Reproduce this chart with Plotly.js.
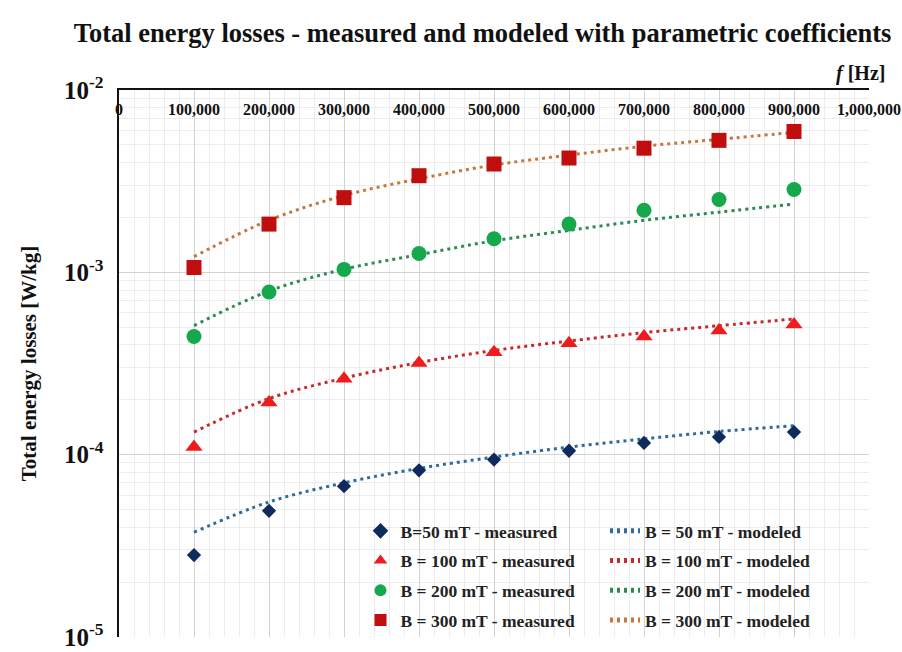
<!DOCTYPE html>
<html>
<head>
<meta charset="utf-8">
<script src="https://cdn.plot.ly/plotly-3.0.1.min.js"></script>
<style>html,body{margin:0;padding:0;background:#fff;}#chart{width:902px;height:652px;}</style>
</head>
<body>
<div id="chart"></div>
<script>
// Frequency [Hz]
const freq = [100000, 200000, 300000, 400000, 500000, 600000, 700000, 800000, 900000];

// Measured total energy losses [W/kg]
const meas50  = [2.81e-5, 4.92e-5, 6.71e-5, 8.2e-5, 9.4e-5, 1.05e-4, 1.16e-4, 1.25e-4, 1.33e-4];
const meas100 = [1.10e-4, 1.93e-4, 2.61e-4, 3.18e-4, 3.65e-4, 4.08e-4, 4.45e-4, 4.80e-4, 5.17e-4];
const meas200 = [4.45e-4, 7.80e-4, 1.038e-3, 1.27e-3, 1.53e-3, 1.84e-3, 2.19e-3, 2.51e-3, 2.85e-3];
const meas300 = [1.063e-3, 1.84e-3, 2.57e-3, 3.39e-3, 3.93e-3, 4.24e-3, 4.80e-3, 5.30e-3, 5.93e-3];

// Modeled total energy losses [W/kg]
const model50  = [3.75e-5, 5.5e-5, 7.0e-5, 8.4e-5, 9.7e-5, 1.1e-4, 1.22e-4, 1.34e-4, 1.44e-4];
const model100 = [1.33e-4, 2.03e-4, 2.63e-4, 3.2e-4, 3.73e-4, 4.2e-4, 4.67e-4, 5.1e-4, 5.55e-4];
const model200 = [5.1e-4, 7.9e-4, 1.04e-3, 1.25e-3, 1.49e-3, 1.7e-3, 1.93e-3, 2.14e-3, 2.37e-3];
const model300 = [1.22e-3, 1.93e-3, 2.64e-3, 3.26e-3, 3.88e-3, 4.40e-3, 4.92e-3, 5.37e-3, 5.86e-3];

// Labels
const measNames  = ["B=50 mT - measured", "B = 100 mT - measured", "B = 200 mT - measured", "B = 300 mT - measured"];
const modelNames = ["B = 50 mT - modeled", "B = 100 mT - modeled", "B = 200 mT - modeled", "B = 300 mT - modeled"];
const yTickVals = [1e-5, 1e-4, 1e-3, 1e-2];
const yTickText = ["10<sup>-5</sup>", "10<sup>-4</sup>", "10<sup>-3</sup>", "10<sup>-2</sup>"];
const xTickVals = [0, 100000, 200000, 300000, 400000, 500000, 600000, 700000, 800000, 900000, 1000000];
const xTickText = ["0", "100,000", "200,000", "300,000", "400,000", "500,000", "600,000", "700,000", "800,000", "900,000", "1,000,000"];

const serif = "Liberation Serif, Times New Roman, serif";

const measData = [meas50, meas100, meas200, meas300];
const modelData = [model50, model100, model200, model300];
const measColors = ["#0f2a5c", "#ee1c1c", "#15a84c", "#c00d0d"];
const measSymbols = ["diamond", "triangle-up", "circle", "square"];
const measSizes = [11, 15, 15, 15];
const modelColors = ["#2f6a9a", "#c62a2a", "#2e8a55", "#c8763e"];

const traces = [];
// modeled lines first so markers sit on top
for (let i = 0; i < 4; i++) {
  traces.push({
    x: freq, y: modelData[i], type: "scatter", mode: "lines",
    name: modelNames[i], legend: "legend2", legendgroup: "mod" + i, legendrank: i + 1,
    line: {color: modelColors[i], width: 3, dash: "3px,4px", shape: "spline", smoothing: 1.0},
    hoverinfo: "skip"
  });
}
for (let i = 0; i < 4; i++) {
  traces.push({
    x: freq, y: measData[i], type: "scatter", mode: "markers",
    name: measNames[i], legend: "legend", legendgroup: "meas" + i, legendrank: i + 1,
    marker: {color: measColors[i], symbol: measSymbols[i], size: measSizes[i], line: {width: 0}}
  });
}

const legendCommon = {
  xanchor: "left", yanchor: "top", bgcolor: "rgba(255,255,255,0)",
  font: {family: serif, size: 17.5, color: "#222", weight: 700},
  tracegroupgap: 4, traceorder: "grouped", itemwidth: 30, itemsizing: "constant"
};

const layout = {
  width: 902, height: 652,
  paper_bgcolor: "#fff", plot_bgcolor: "#fff",
  margin: {l: 119, r: 33, t: 90, b: 15},
  showlegend: true,
  title: {
    text: "Total energy losses - measured and modeled with parametric coefficients",
    font: {family: serif, size: 26.5, color: "#111", weight: 700},
    x: 0.535, xanchor: "center", y: 0.95, yanchor: "middle"
  },
  xaxis: {
    type: "linear", range: [0, 1000000], side: "top",
    tickmode: "array", tickvals: xTickVals, ticktext: xTickText,
    ticklabelposition: "inside", ticklabeloverflow: "allow", ticks: "", ticklabelstandoff: 14,
    tickfont: {family: serif, size: 16, color: "#111", weight: 700},
    showline: true, linecolor: "#111", linewidth: 2.5, mirror: false,
    showgrid: true, gridcolor: "#d2d2d2", gridwidth: 1,
    minor: {dtick: 20000, tick0: 0, showgrid: true, gridcolor: "#ececec", gridwidth: 1},
    zeroline: false, fixedrange: true
  },
  yaxis: {
    type: "log", range: [-5.0005, -1.9995],
    tickmode: "array", tickvals: yTickVals, ticktext: yTickText,
    ticks: "", ticklabelstandoff: 8, ticklabeloverflow: "allow",
    tickfont: {family: serif, size: 25, color: "#111", weight: 700},
    showline: true, linecolor: "#111", linewidth: 2.5, mirror: false,
    showgrid: true, gridcolor: "#d2d2d2", gridwidth: 1,
    minor: {dtick: "D1", showgrid: true, gridcolor: "#ececec", gridwidth: 1},
    title: {text: "Total energy losses [W/kg]", font: {family: serif, size: 21, color: "#111", weight: 700}, standoff: 22},
    zeroline: false, fixedrange: true
  },
  legend: Object.assign({}, legendCommon, {x: 0.322, y: 0.2267}),
  legend2: Object.assign({}, legendCommon, {x: 0.648, y: 0.2267}),
  shapes: [{
    type: "rect", xref: "paper", yref: "paper", x0: 0.332, x1: 0.964, y0: 0.002, y1: 0.223,
    fillcolor: "#ffffff", line: {width: 0}, layer: "between"
  }],
  annotations: [{
    text: "<i>f</i> [Hz]", xref: "paper", yref: "paper", x: 1.0, y: 1.0,
    xanchor: "right", yanchor: "bottom", yshift: 3, xshift: 18, showarrow: false,
    font: {family: serif, size: 20, color: "#111", weight: 700}
  }]
};

Plotly.newPlot("chart", traces, layout, {displayModeBar: false, staticPlot: true});
</script>
</body>
</html>
